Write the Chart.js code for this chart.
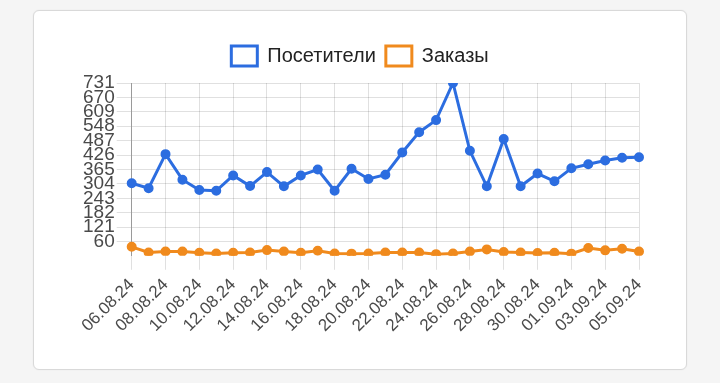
<!DOCTYPE html>
<html>
<head>
<meta charset="utf-8">
<script src="https://cdn.jsdelivr.net/npm/chart.js@4"></script>
<style>
	html, body {
		margin: 0;
		padding: 0;
		background: #f5f5f5;
		width: 720px;
		height: 383px;
		overflow: hidden;
	}
	.card {
		position: absolute;
		left: 33px;
		top: 10px;
		width: 652px;
		height: 358px;
		background: #fff;
		border: 1px solid #d9d9d9;
		border-radius: 6px;
		box-shadow: 0 0 2px rgba(0, 0, 0, 0.06);
	}
</style>
</head>
<body>
<div class="card">
	<canvas id="chart"></canvas>
</div>
<script>
// Даты (ось X)
const days = [
	'06.08.24', '07.08.24', '08.08.24', '09.08.24', '10.08.24', '11.08.24',
	'12.08.24', '13.08.24', '14.08.24', '15.08.24', '16.08.24', '17.08.24',
	'18.08.24', '19.08.24', '20.08.24', '21.08.24', '22.08.24', '23.08.24',
	'24.08.24', '25.08.24', '26.08.24', '27.08.24', '28.08.24', '29.08.24',
	'30.08.24', '31.08.24', '01.09.24', '02.09.24', '03.09.24', '04.09.24',
	'05.09.24',
];

// Посетители
const visitors = [
	307, 286, 430, 322, 278, 275, 340, 295, 354, 294, 340, 365, 275, 368,
	325, 343, 437, 523, 574, 731, 444, 294, 494, 294, 348, 315, 370, 387,
	403, 415, 417,
];

// Заказы
const orders = [
	38, 14, 18, 18, 13, 10, 13, 14, 24, 18, 13, 21, 10, 9, 10, 14, 14, 14,
	7, 10, 18, 27, 16, 14, 12, 13, 9, 33, 23, 30, 18,
];

// Деления оси Y
const yTicks = [ 60, 121, 182, 243, 304, 365, 426, 487, 548, 609, 670, 731 ];

const BLUE = '#2c6de0';
const ORANGE = '#f08a1d';
const FONT = "'Liberation Sans', Arial, Helvetica, sans-serif";

// отступ под легендой
const legendGap = {
	id: 'legendGap',
	beforeInit( chart ) {
		const fit = chart.legend.fit;
		chart.legend.fit = function () {
			fit.call( this );
			this.height += 7;
		};
	},
};

new Chart( document.getElementById( 'chart' ), {
	type: 'line',
	data: {
		labels: days,
		datasets: [
			{
				label: 'Посетители',
				data: visitors,
				borderColor: BLUE,
				backgroundColor: '#fff',
				pointBackgroundColor: BLUE,
				pointBorderColor: BLUE,
				borderWidth: 3,
				pointRadius: 3.5,
				tension: 0,
			},
			{
				label: 'Заказы',
				data: orders,
				borderColor: ORANGE,
				backgroundColor: '#fff',
				pointBackgroundColor: ORANGE,
				pointBorderColor: ORANGE,
				borderWidth: 3,
				pointRadius: 3.5,
				tension: 0,
			},
		],
	},
	plugins: [ legendGap ],
	options: {
		responsive: true,
		maintainAspectRatio: false,
		animation: false,
		layout: {
			padding: { top: 25, left: 47, right: 47, bottom: 28 },
		},
		plugins: {
			legend: {
				labels: {
					boxWidth: 26,
					boxHeight: 20,
					padding: 10,
					color: '#222',
					font: { family: FONT, size: 20 },
				},
			},
			tooltip: { enabled: false },
		},
		scales: {
			x: {
				grid: {
					color: ( ctx ) => ( ctx.index % 2 ? 'rgba(0,0,0,0)' : 'rgba(0,0,0,0.12)' ),
					tickLength: 14,
				},
				border: { display: false },
				ticks: {
					autoSkip: false,
					minRotation: 45,
					maxRotation: 45,
					padding: 5,
					color: '#4a4a4a',
					font: { family: FONT, size: 17 },
					callback: function ( value, index ) {
						return index % 2 ? '' : days[ index ];
					},
				},
			},
			y: {
				min: 0,
				max: 731,
				afterBuildTicks: ( axis ) => {
					axis.ticks = yTicks.map( ( v ) => ( { value: v } ) );
				},
				grid: {
					color: 'rgba(0,0,0,0.12)',
					tickLength: 15,
				},
				border: { color: '#9a9a9a' },
				ticks: {
					autoSkip: false,
					padding: 2,
					color: '#4a4a4a',
					font: { family: FONT, size: 19, lineHeight: 1 },
				},
			},
		},
	},
} );
</script>
</body>
</html>
